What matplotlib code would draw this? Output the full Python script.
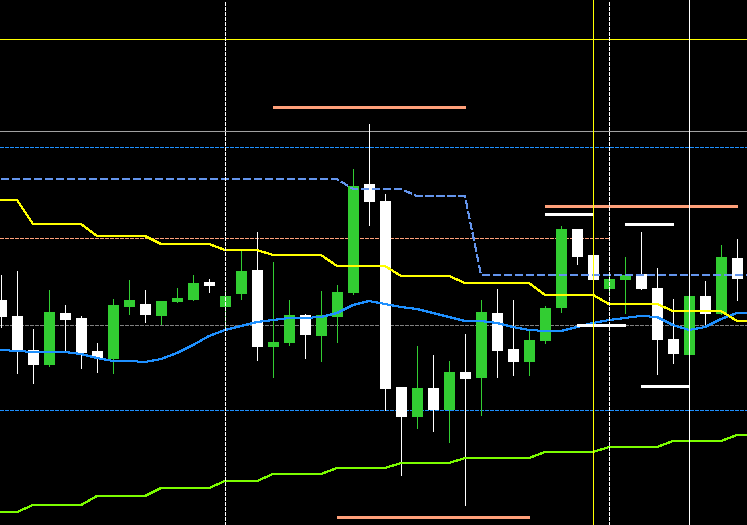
import matplotlib
matplotlib.use("Agg")
import matplotlib.pyplot as plt
import numpy as np

plt.rcParams['lines.scale_dashes'] = False
plt.rcParams['lines.antialiased'] = False
plt.rcParams['patch.antialiased'] = False

# Chart levels (measured downward from the top of the price window)
opens  = [300, 316, 350, 365, 313, 318, 351, 359, 307, 304, 316, 302, 300, 282, 307, 294,
          270, 347, 343, 315, 336, 317, 293, 184, 201, 387, 417, 388, 410, 372, 378, 313,
          349, 362, 341, 308, 229, 255, 289, 280, 274, 288, 339, 355, 296, 314, 258]
highs  = [275, 271, 329, 290, 305, 316, 343, 299, 280, 290, 301, 288, 275, 279, 290, 249,
          232, 262, 300, 314, 291, 285, 169, 124, 194, 387, 346, 355, 361, 334, 300, 289,
          300, 330, 306, 226, 229, 255, 272, 257, 232, 268, 299, 294, 281, 245, 239]
lows   = [327, 373, 383, 366, 352, 368, 372, 373, 314, 322, 324, 302, 300, 292, 327, 299,
          360, 377, 345, 358, 361, 342, 294, 225, 410, 475, 428, 431, 442, 505, 415, 377,
          375, 375, 343, 312, 264, 280, 291, 313, 289, 374, 363, 357, 327, 314, 300]
closes = [317, 351, 365, 312, 320, 353, 358, 305, 300, 315, 301, 298, 283, 286, 296, 271,
          347, 342, 315, 335, 315, 292, 186, 202, 389, 417, 388, 410, 372, 379, 312, 351,
          362, 340, 308, 229, 257, 280, 279, 275, 289, 340, 354, 296, 314, 257, 279]

ma_line = [350, 351, 352, 352, 352, 354, 358, 361, 361, 362, 359, 353, 345, 336, 330, 326,
           322, 320, 318, 318, 317, 313, 305, 301, 304, 307, 309, 313, 317, 321, 321, 323,
           327, 330, 331, 331, 327, 323, 320, 318, 316, 317, 325, 330, 327, 319, 313]
upper_band = [200, 200, 224, 224, 224, 224, 236, 236, 236, 236, 244, 244, 244, 244, 250, 250,
              250, 255, 255, 255, 255, 266, 266, 266, 266, 276, 276, 276, 276, 283, 283, 283,
              283, 283, 295, 295, 295, 295, 304, 304, 304, 304, 311, 311, 311, 311, 321]
lower_band = [512, 512, 505, 505, 505, 505, 496, 496, 496, 496, 488, 488, 488, 488, 481, 481,
              481, 474, 474, 474, 474, 468, 468, 468, 468, 463, 463, 463, 463, 458, 458, 458,
              458, 458, 452, 452, 452, 452, 447, 447, 447, 447, 441, 441, 441, 441, 435]
stop_line = [179, 179, 179, 179, 179, 179, 179, 179, 179, 179, 179, 179, 179, 179, 179, 179,
             179, 179, 179, 179, 179, 179, 189, 189, 189, 189, 196, 196, 196, 196, 275, 275,
             275, 275, 275, 275, 275, 275, 275, 275, 275, 275, 275, 275, 275, 275, 275]

# horizontal levels
level_yellow = 39
level_gray = 131
level_blue_dot = 147
level_salmon_dash = 238
level_gray_dash = 325
level_blue_dash = 410

# thick segments: (level, start candle, end candle)
salmon_segments = [(107, 17, 29), (517, 21, 33), (206, 34, 46)]
white_segments = [(214, 34, 37), (224, 39, 42), (325, 36, 39), (386, 40, 43)]

# vertical markers (candle index)
vdash_white = [14, 38]
vsolid_yellow = [37]
vsolid_white = [43]

W, H = 747, 525
fig = plt.figure(figsize=(W / 100, H / 100), dpi=100)
fig.patch.set_facecolor('black')
ax = fig.add_axes([0, 0, 1, 1])
ax.set_facecolor('black')
XL, XR = -1 / 16, 746 / 16
ax.set_xlim(XL, XR)
ax.set_ylim(525, 0)
ax.axis('off')

PX = 0.72  # one pixel in points
LW = 1.0 * PX
x = np.arange(len(opens))

def dash(on, off):
    return (0, (on * PX, off * PX))

def extend(vals):
    # carry the last value flat to the right edge of the window
    return np.append(x, XR), np.append(vals, vals[-1])

# horizontal levels behind candles
ax.axhline(level_yellow, color='#FFFF00', lw=LW, zorder=1)
ax.axhline(level_gray, color='#A0A0A0', lw=LW, zorder=1)
ax.axhline(level_blue_dot, color='#1E90FF', lw=LW, ls=dash(3, 2), zorder=1)
ax.plot([XL, 38], [level_salmon_dash] * 2, color='#FFA07A', lw=LW, ls=dash(3, 2), zorder=1)
ax.axhline(level_gray_dash, color='#808080', lw=LW, ls=dash(3, 2), zorder=1)
ax.axhline(level_blue_dash, color='#1E90FF', lw=LW, ls=dash(3, 2), zorder=1)

# candles
for i in range(len(opens)):
    o, h, l, c = opens[i], highs[i], lows[i], closes[i]
    col = '#32CD32' if c < o else '#FFFFFF'
    ax.vlines(x[i], h, l, color=col, lw=LW, zorder=3, antialiased=False)
    top = min(o, c)
    ht = max(abs(c - o), 1)
    ax.bar(x[i], ht, bottom=top, width=11 / 16, color=col, edgecolor=col,
           linewidth=0, zorder=3)

# indicator lines
ax.plot(*extend(ma_line), color='#1E90FF', lw=LW, zorder=4)
ax.plot(*extend(upper_band), color='#FFFF00', lw=LW, zorder=4)
ax.plot(*extend(lower_band), color='#7CFC00', lw=LW, zorder=4)
ax.plot(*extend(stop_line), color='#6495ED', lw=LW, ls=dash(8, 4), zorder=4)

# thick segments
for lvl, a, b in salmon_segments:
    ax.plot([a, b], [lvl, lvl], color='#FFA07A', lw=3 * PX, solid_capstyle='butt', zorder=5)
for lvl, a, b in white_segments:
    ax.plot([a, b], [lvl, lvl], color='#FFFFFF', lw=3 * PX, solid_capstyle='butt', zorder=5)

# vertical markers
for v in vdash_white:
    ax.axvline(v, color='#FFFFFF', lw=LW, ls=dash(3, 2), zorder=6)
for v in vsolid_yellow:
    ax.axvline(v, color='#FFFF00', lw=LW, zorder=6)
for v in vsolid_white:
    ax.axvline(v, color='#FFFFFF', lw=LW, zorder=6)

fig.savefig('out.png', dpi=100, facecolor='black')
